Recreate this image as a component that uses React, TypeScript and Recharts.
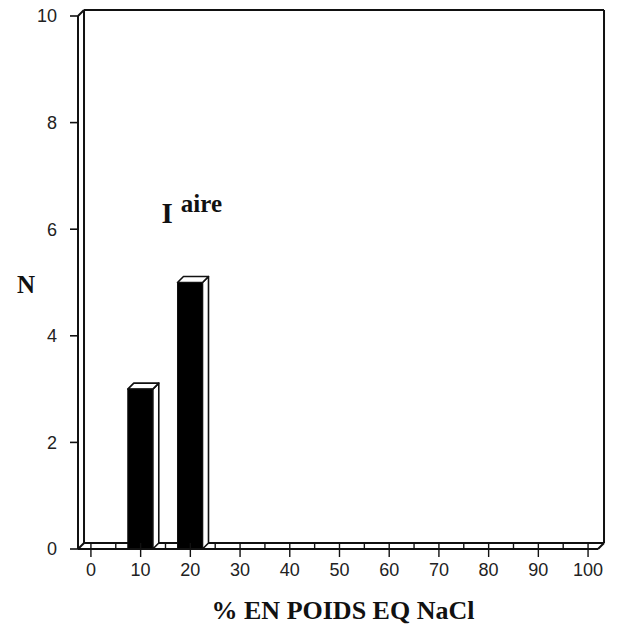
import React from "react";
import {
  ComposedChart,
  Bar,
  XAxis,
  YAxis,
  ReferenceLine,
  ReferenceDot,
  Label,
} from "recharts";

// ---- data ----
const salinityBins = [10, 20]; // % en poids eq NaCl
const counts = [3, 5]; // N
const xTicks = [0, 5, 10, 15, 20, 25, 30, 35, 40, 45, 50, 55, 60, 65, 70, 75, 80, 85, 90, 95, 100];
const yTicks = [0, 2, 4, 6, 8, 10];
const xTitle = "% EN POIDS EQ NaCl";
const yTitle = "N";
const annotationMain = "I";
const annotationSup = "aire";

const data = salinityBins.map((x, i) => ({ x, n: counts[i] }));

// ---- frame / geometry constants (axis domain units) ----
const X_MIN = -2.6;
const X_MAX = 102;
const Y_MAX = 10;
const DX = 1.21; // 3D depth in x units (~6px)
const DY = 0.113; // 3D depth in y units (~6px)
const DEPTH_PX = 6;
const TICK_SIZE = 8;
const TICK_MARGIN = 6;
const INK = "#111";

const Bar3D = (props: any) => {
  const { x, y, width, height } = props;
  if (!height || height <= 0) return null;
  const d = DEPTH_PX;
  const side = `${x + width},${y} ${x + width + d},${y - d} ${x + width + d},${y + height - d} ${x + width},${y + height}`;
  const top = `${x},${y} ${x + d},${y - d} ${x + width + d},${y - d} ${x + width},${y}`;
  return (
    <g>
      <polygon points={side} fill="#fff" stroke={INK} strokeWidth={1.6} strokeLinejoin="round" />
      <polygon points={top} fill="#fff" stroke={INK} strokeWidth={1.6} strokeLinejoin="round" />
      <rect x={x} y={y} width={width} height={height} fill="#000" stroke={INK} strokeWidth={1} />
    </g>
  );
};

const XTick = (props: any) => {
  const { x, y, payload } = props;
  const axisY = y - TICK_SIZE - TICK_MARGIN;
  const major = payload.value % 10 === 0;
  return (
    <g>
      <line
        x1={x}
        x2={x}
        y1={axisY - 6}
        y2={major ? axisY + TICK_SIZE : axisY}
        stroke={INK}
        strokeWidth={1.4}
      />
      {major && (
        <text
          x={x}
          y={y}
          dy="0.71em"
          textAnchor="middle"
          fontFamily="'Liberation Sans', Arial, sans-serif"
          fontSize={18}
          fill="#222"
        >
          {payload.value}
        </text>
      )}
    </g>
  );
};

const Annotation = (props: any) => {
  const vb = props.viewBox || {};
  const x = vb.x ?? 0;
  const y = vb.y ?? 0;
  return (
    <text
      x={x}
      y={y}
      fontFamily="'Liberation Serif', 'Times New Roman', serif"
      fontWeight="bold"
      fill="#111"
    >
      <tspan fontSize={29}>{annotationMain}</tspan>
      <tspan fontSize={25} dx={8} dy={-11}>
        {annotationSup}
      </tspan>
    </text>
  );
};

const frameSegments: { x: number; y: number }[][] = [
  // back wall
  [{ x: X_MIN + DX, y: DY }, { x: X_MIN + DX, y: Y_MAX + DY }],
  [{ x: X_MIN + DX, y: Y_MAX + DY }, { x: X_MAX + DX, y: Y_MAX + DY }],
  [{ x: X_MAX + DX, y: Y_MAX + DY }, { x: X_MAX + DX, y: DY }],
  [{ x: X_MIN + DX, y: DY }, { x: X_MAX + DX, y: DY }],
  // connectors
  [{ x: X_MIN, y: Y_MAX }, { x: X_MIN + DX, y: Y_MAX + DY }],
  [{ x: X_MAX, y: 0 }, { x: X_MAX + DX, y: DY }],
  [{ x: X_MIN, y: 0 }, { x: X_MIN + DX, y: DY }],
];

export default function App() {
  return (
    <div style={{ position: "absolute", left: 0, top: 0, width: 618, height: 628, background: "#fff" }}>
      <ComposedChart
        width={618}
        height={628}
        data={data}
        margin={{ top: 16, right: 20, bottom: 4, left: 0 }}
      >
        <XAxis
          dataKey="x"
          type="number"
          domain={[X_MIN, X_MAX]}
          allowDataOverflow
          ticks={xTicks}
          interval={0}
          tickLine={false}
          tickSize={TICK_SIZE}
          tickMargin={TICK_MARGIN}
          tick={<XTick />}
          axisLine={{ stroke: INK, strokeWidth: 2 }}
          height={75}
        >
          <Label
            value={xTitle}
            position="insideBottom"
            offset={5}
            dx={5}
            style={{
              fontFamily: "'Liberation Serif', 'Times New Roman', serif",
              fontWeight: "bold",
              fontSize: 26,
              fill: "#111",
            }}
          />
        </XAxis>
        <YAxis
          type="number"
          domain={[0, Y_MAX]}
          allowDataOverflow
          ticks={yTicks}
          interval={0}
          width={78}
          tickSize={TICK_SIZE}
          tickMargin={13}
          tickLine={{ stroke: INK, strokeWidth: 1.6 }}
          axisLine={{ stroke: INK, strokeWidth: 2 }}
          tick={{
            fontFamily: "'Liberation Sans', Arial, sans-serif",
            fontSize: 18,
            fill: "#222",
          }}
        >
          <Label
            value={yTitle}
            position="insideLeft"
            offset={17}
            dy={2}
            style={{
              fontFamily: "'Liberation Serif', 'Times New Roman', serif",
              fontWeight: "bold",
              fontSize: 25,
              fill: "#111",
              textAnchor: "start",
            }}
          />
        </YAxis>
        {frameSegments.map((seg, i) => (
          <ReferenceLine
            key={i}
            segment={seg}
            ifOverflow="visible"
            stroke={INK}
            strokeWidth={2}
            zIndex={100}
          />
        ))}
        <Bar dataKey="n" barSize={25} shape={<Bar3D />} isAnimationActive={false} />
        <ReferenceDot
          x={14.2}
          y={6.12}
          r={0}
          ifOverflow="visible"
          fill="none"
          stroke="none"
          label={<Annotation />}
        />
      </ComposedChart>
    </div>
  );
}
